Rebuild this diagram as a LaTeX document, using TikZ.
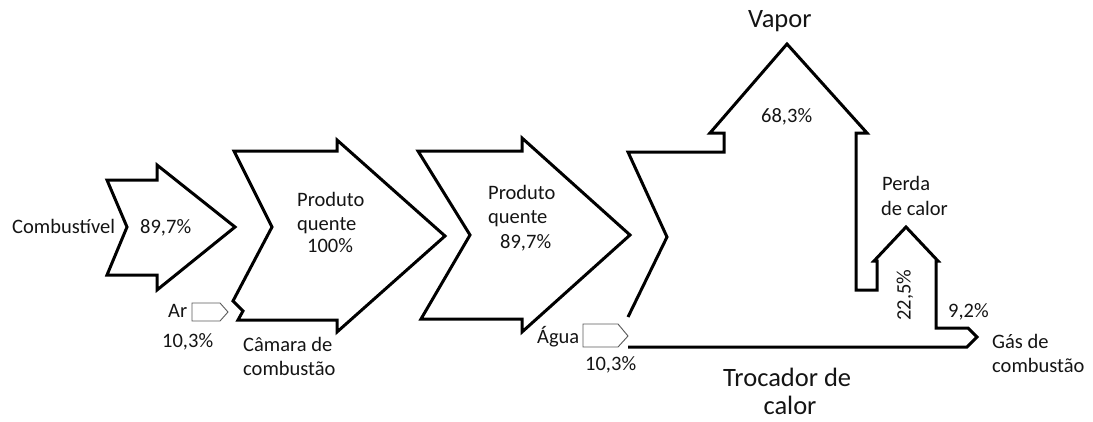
\documentclass[tikz,border=0pt]{standalone}
\usepackage{fontspec}
\setmainfont{Carlito}
\definecolor{ink}{RGB}{20,20,20}
\definecolor{tagline}{RGB}{90,90,90}
\begin{document}
\begin{tikzpicture}[x=1pt,y=-1pt,
  flow/.style={draw=black, line width=3pt, line join=miter},
  tag/.style={draw=tagline, line width=0.9pt, fill=white},
  lbl/.style={inner sep=0pt, anchor=base west, text=ink, font=\fontsize{20.5}{24}\selectfont},
  big/.style={lbl, font=\fontsize{26.5}{32}\selectfont}]
\useasboundingbox (0,0) rectangle (1093,421);

% fuel inlet arrow
\draw[flow] (107,180) -- (157,180) -- (157,165) -- (235,227) -- (157,290) -- (157,275)
  -- (107,275) -- (127,227) -- cycle;

% combustion chamber arrow
\draw[flow] (234,151) -- (337,151) -- (337,140) -- (445,236) -- (337,332) -- (337,320)
  -- (238,320) -- (243,311) -- (233,301) -- (272,227) -- cycle;

% hot product arrow
\draw[flow] (418,151) -- (522,151) -- (522,138) -- (630,235) -- (522,332) -- (522,319)
  -- (421,319) -- (470,235) -- cycle;

% heat exchanger with steam, heat loss and flue gas branches
\draw[flow] (628,317) -- (667,237) -- (628,152) -- (724,152) -- (724,133) -- (710,133)
  -- (787,44) -- (867,133) -- (856,133) -- (856,290) -- (877,290) -- (877,261)
  -- (874,261) -- (906,227) -- (938,261) -- (936,261) -- (936,328) -- (968,328)
  -- (977,337) -- (967,347) -- (628,347);

% small inlet tags: air and water
\draw[tag] (192,303) -- (220,303) -- (228,312) -- (220,321) -- (192,321) -- cycle;
\draw[tag] (583,324) -- (618,324) -- (628,336) -- (618,347) -- (583,347) -- cycle;

% labels
\node[lbl] (comb) at (12,233) {Combustível};
\node[lbl] (combp) at (140,233) {89,7\%};
\node[lbl] (ar) at (168,317) {Ar};
\node[lbl] (arp) at (162,347) {10,3\%};
\node[lbl] (pqa1) at (297,206) {Produto};
\node[lbl] (pqa2) at (297,230) {quente};
\node[lbl] (pqa3) at (307,252) {100\%};
\node[lbl] (cam1) at (243,351) {Câmara de};
\node[lbl] (cam2) at (243,375) {combustão};
\node[lbl] (pqb1) at (488,199) {Produto};
\node[lbl] (pqb2) at (488,223) {quente};
\node[lbl] (pqb3) at (500,248) {89,7\%};
\node[lbl] (agua) at (537,343) {Água};
\node[lbl] (aguap) at (585,370) {10,3\%};
\node[big] (vap) at (748,27) {Vapor};
\node[lbl] (vapp) at (761,122) {68,3\%};
\node[lbl] (perda1) at (882,190) {Perda};
\node[lbl] (perda2) at (881,215) {de calor};
\node[lbl, rotate=90, anchor=center] (perdap) at (905,295) {22,5\%};
\node[lbl] (gasp) at (948,317) {9,2\%};
\node[lbl] (gas1) at (992,348) {Gás de};
\node[lbl] (gas2) at (992,372) {combustão};
\node[big] (troc1) at (723,386) {Trocador de};
\node[big, anchor=base] (troc2) at (790,414) {calor};
\end{tikzpicture}
\end{document}
